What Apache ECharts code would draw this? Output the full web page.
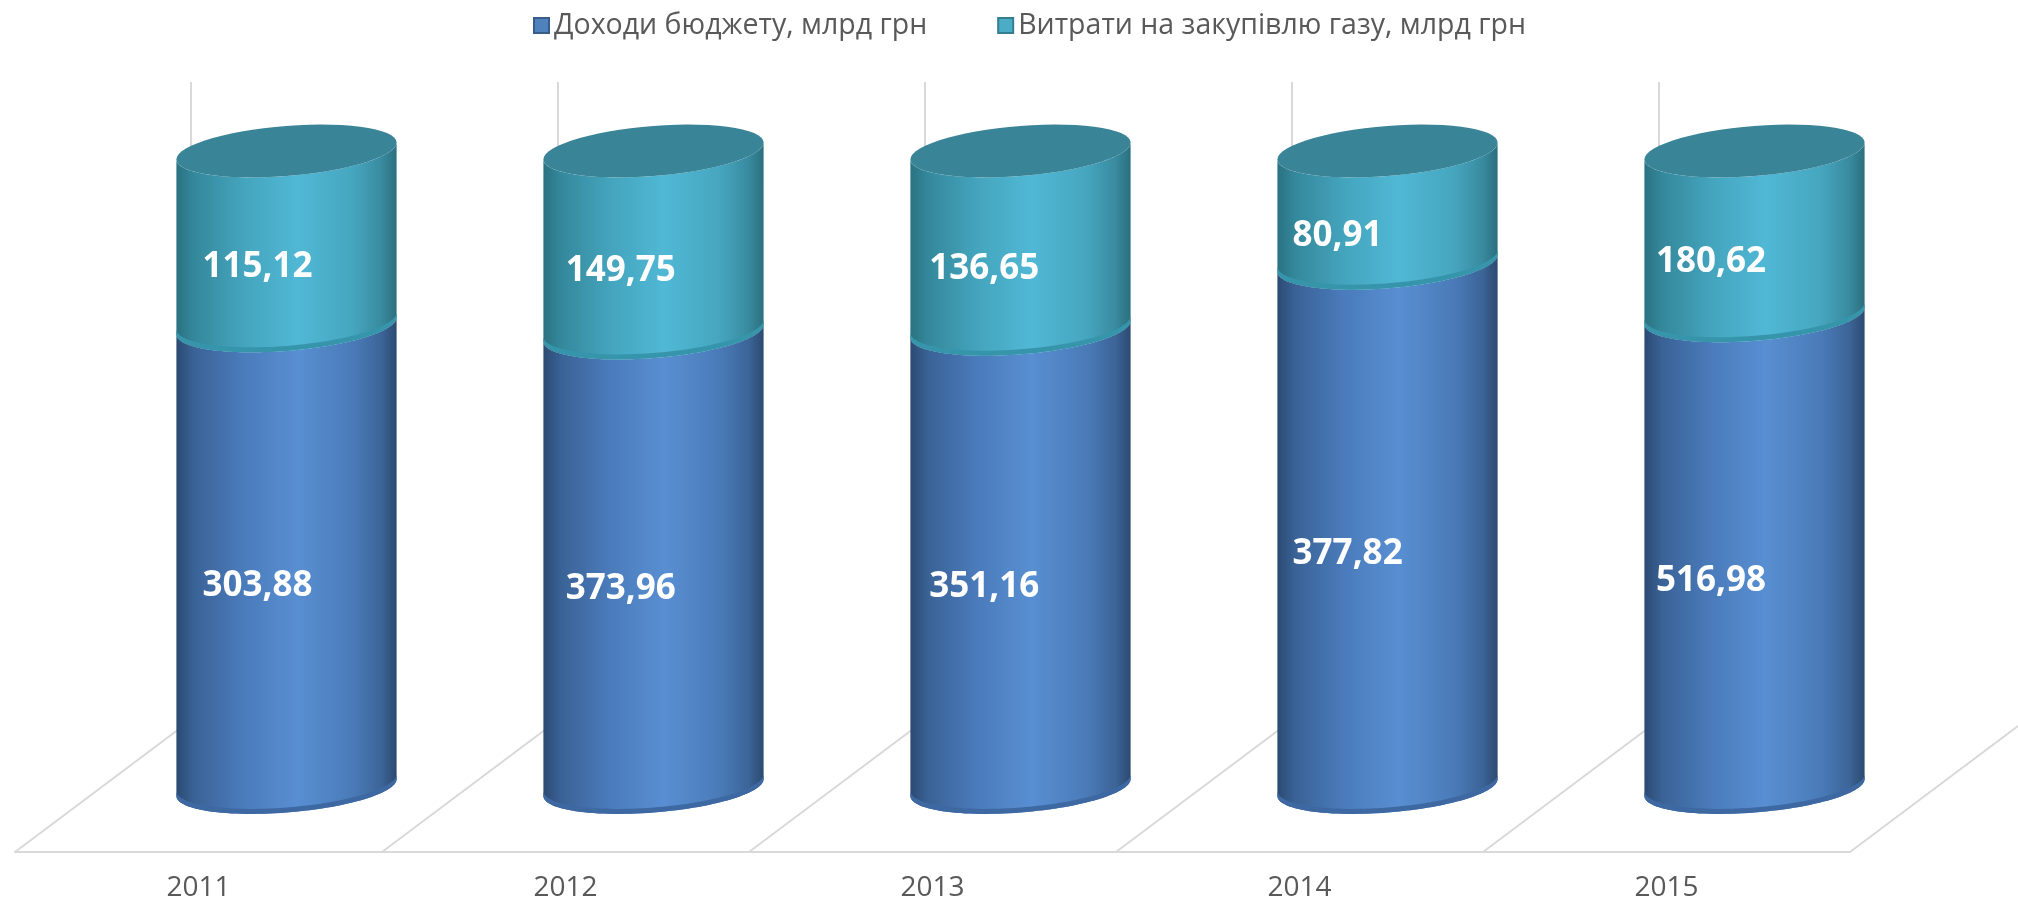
<!DOCTYPE html>
<html>
<head>
    <meta charset="utf-8">
    <title>Доходи бюджету та витрати на закупівлю газу</title>
    <script src="https://cdn.jsdelivr.net/npm/echarts@6/dist/echarts.min.js"></script>
    <style>
        html, body { margin: 0; padding: 0; background: #fff; }
        #chart1 { width: 2018px; height: 903px; }
    </style>
</head>
<body>
<div id="chart1"></div>
<script type="text/javascript">
    // дані, млрд грн
    var years = ['2011', '2012', '2013', '2014', '2015'];
    var budgetIncome = [303.88, 373.96, 351.16, 377.82, 516.98];
    var gasSpending = [115.12, 149.75, 136.65, 80.91, 180.62];
    var seriesNames = ['Доходи бюджету, млрд грн', 'Витрати на закупівлю газу, млрд грн'];

    // 100% накопичення: частка доходів у кожному стовпці
    var incomeShare = budgetIncome.map(function (v, i) {
        return v / (v + gasSpending[i]) * 100;
    });

    var blueSide = [
        {offset: 0, color: '#2b4a72'}, {offset: 0.08, color: '#3a6296'},
        {offset: 0.3, color: '#4a7bbb'}, {offset: 0.55, color: '#588fd2'},
        {offset: 0.8, color: '#4a7bb8'}, {offset: 0.93, color: '#3c6598'},
        {offset: 1, color: '#2c4a70'}
    ];
    var tealSide = [
        {offset: 0, color: '#2a7282'}, {offset: 0.08, color: '#34889b'},
        {offset: 0.3, color: '#44a4bd'}, {offset: 0.55, color: '#50b8d5'},
        {offset: 0.8, color: '#46a6bf'}, {offset: 0.93, color: '#398b9f'},
        {offset: 1, color: '#2b6f7f'}
    ];

    function fmt(v) {
        return v.toFixed(2).replace('.', ',');
    }

    function cylinderItem(sideColors, rimColor, topColor) {
        return function (params, api) {
            var idx = api.value(0);
            var p0 = api.coord([idx, api.value(1)]);
            var p1 = api.coord([idx, api.value(2)]);
            var a = api.size([1, 0])[0] * 0.3;
            var b = 25, tilt = 0.077;
            var cx = p0[0];
            function arc(cy, t0, t1) {
                var pts = [];
                for (var k = 0; k <= 60; k++) {
                    var t = t0 + (t1 - t0) * k / 60;
                    pts.push([cx + a * Math.cos(t), cy + b * Math.sin(t) - tilt * a * Math.cos(t)]);
                }
                return pts;
            }
            var side = arc(p0[1], Math.PI, 0).concat(arc(p1[1], 0, Math.PI));
            var rim = arc(p0[1], Math.PI, 0).concat(arc(p0[1] - 5, 0, Math.PI));
            var children = [
                {
                    type: 'polygon', shape: {points: side},
                    style: {fill: new echarts.graphic.LinearGradient(0, 0, 1, 0, sideColors)}
                },
                {
                    type: 'polygon', shape: {points: rim},
                    style: {fill: rimColor}
                }
            ];
            if (topColor) {
                children.push({
                    type: 'polygon', shape: {points: arc(p1[1], 0, Math.PI * 2)},
                    style: {fill: topColor}
                });
            }
            children.push({
                type: 'text',
                style: {
                    text: fmt(api.value(3)),
                    x: cx - a + 26 - 3.6 * idx,
                    y: (p0[1] + p1[1]) / 2 + b + 4,
                    fill: '#ffffff', fontSize: 35, fontWeight: 'bold', fontFamily: 'Open Sans',
                    align: 'left', verticalAlign: 'middle'
                }
            });
            return {type: 'group', children: children};
        };
    }

    // підлога та задні лінії сітки
    function floorItem(params, api) {
        var idx = api.value(0);
        var band = api.size([1, 0])[0];
        var cs = params.coordSys;
        var bottom = cs.y + cs.height;
        var edges = [api.coord([idx, 0])[0] - band / 2];
        if (idx === years.length - 1) edges.push(edges[0] + band);
        var children = edges.map(function (x) {
            return {
                type: 'polyline',
                shape: {points: [[x, bottom], [x + 176, bottom - 132], [x + 176, cs.y]]},
                style: {stroke: '#d9d9d9', lineWidth: 2, fill: null}
            };
        });
        return {type: 'group', children: children};
    }

    var myChart1 = echarts.init(document.getElementById('chart1'));

    myChart1.setOption({
        animation: false,
        legend: {
            top: 6,
            left: 528,
            icon: 'rect',
            itemWidth: 15,
            itemHeight: 15,
            itemGap: 70,
            textStyle: {color: '#595959', fontSize: 28.5, fontFamily: 'Open Sans'},
            data: [
                {name: seriesNames[0], itemStyle: {color: '#4f81bd', borderColor: '#385d8a', borderWidth: 2}},
                {name: seriesNames[1], itemStyle: {color: '#4bacc6', borderColor: '#357d91', borderWidth: 2}}
            ]
        },
        grid: [
            {left: 103, width: 1835, top: 151, bottom: 115.5},
            {left: 15, width: 1835, top: 82, bottom: 51}
        ],
        xAxis: [
            {type: 'category', data: years, gridIndex: 0, show: false},
            {
                type: 'category', data: years, gridIndex: 1,
                axisLine: {lineStyle: {color: '#d9d9d9', width: 2}},
                axisTick: {show: false},
                splitLine: {show: false},
                axisLabel: {color: '#595959', fontSize: 28, fontFamily: 'Open Sans', margin: 22}
            }
        ],
        yAxis: [
            {type: 'value', gridIndex: 0, min: 0, max: 100, show: false},
            {type: 'value', gridIndex: 1, min: 0, max: 1, show: false}
        ],
        series: [
            {
                type: 'custom',
                name: 'floor',
                xAxisIndex: 1,
                yAxisIndex: 1,
                silent: true,
                renderItem: floorItem,
                data: years.map(function (y, i) { return [i, 0]; })
            },
            {
                type: 'custom',
                name: seriesNames[0],
                xAxisIndex: 0,
                yAxisIndex: 0,
                itemStyle: {color: '#4f81bd'},
                renderItem: cylinderItem(blueSide, '#3d68a2', null),
                encode: {x: 0, y: 2},
                data: years.map(function (y, i) { return [i, 0, incomeShare[i], budgetIncome[i]]; })
            },
            {
                type: 'custom',
                name: seriesNames[1],
                xAxisIndex: 0,
                yAxisIndex: 0,
                itemStyle: {color: '#4bacc6'},
                renderItem: cylinderItem(tealSide, '#3795ab', '#3a8497'),
                encode: {x: 0, y: 2},
                data: years.map(function (y, i) { return [i, incomeShare[i], 100, gasSpending[i]]; })
            }
        ]
    });
</script>
</body>
</html>
